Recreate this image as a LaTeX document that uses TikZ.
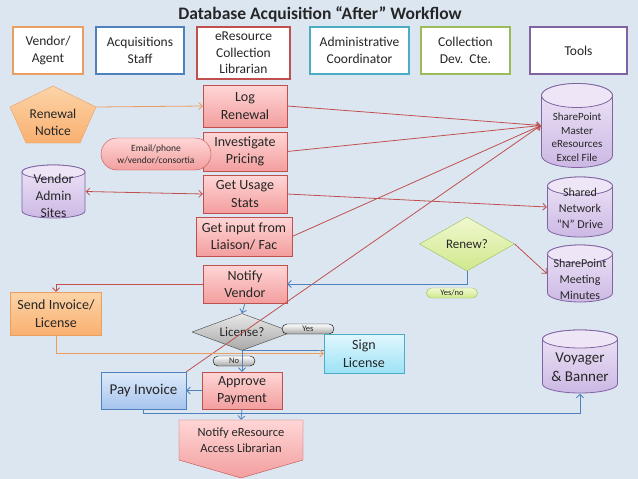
\documentclass[tikz,border=0pt]{standalone}
\usepackage{fontspec}
\setmainfont{Carlito}
\usetikzlibrary{shapes.geometric,shapes.misc,arrows.meta,calc}
\definecolor{bgblue}{RGB}{220,230,241}
\definecolor{inkgray}{RGB}{38,38,38}
\definecolor{redln}{RGB}{192,80,77}
\definecolor{blueln}{RGB}{79,129,189}
\definecolor{orangeln}{RGB}{236,158,96}
\definecolor{cyanln}{RGB}{75,172,198}
\definecolor{greenln}{RGB}{155,187,89}
\definecolor{purpleln}{RGB}{128,100,162}
\definecolor{redtop}{RGB}{255,214,214}
\definecolor{redbot}{RGB}{243,158,158}
\definecolor{orangetop}{RGB}{252,212,168}
\definecolor{orangebot}{RGB}{249,176,112}
\definecolor{bluetop}{RGB}{222,234,250}
\definecolor{bluebot}{RGB}{166,196,238}
\definecolor{cyantop}{RGB}{226,247,253}
\definecolor{cyanbot}{RGB}{156,226,246}
\definecolor{purpletop}{RGB}{238,230,247}
\definecolor{purplebot}{RGB}{204,184,228}
\definecolor{graytop}{RGB}{232,232,232}
\definecolor{graybot}{RGB}{168,168,168}
\definecolor{greentop}{RGB}{240,248,208}
\definecolor{greenbot}{RGB}{208,232,140}
\tikzset{
  >={Straight Barb[length=3.5pt,width=7pt]},
  every node/.style={text=inkgray},
  hd/.style={draw=#1,fill=white,line width=1.5pt,align=center,inner sep=1pt,
    font=\fontsize{13.5}{16.5}\selectfont},
  task/.style={draw=redln,top color=redtop,bottom color=redbot,align=center,inner sep=1pt,
    font=\fontsize{14}{17.5}\selectfont},
  orangebox/.style={draw=orangeln,top color=orangetop,bottom color=orangebot,align=center,
    inner sep=1pt,font=\fontsize{14}{17.5}\selectfont},
  paybox/.style={draw=blueln,top color=bluetop,bottom color=bluebot,align=center,inner sep=1pt,
    font=\fontsize{15}{18}\selectfont},
  signbox/.style={draw=cyanln,top color=cyantop,bottom color=cyanbot,align=center,inner sep=1pt,
    font=\fontsize{14}{17.5}\selectfont},
  store/.style={inner sep=0pt,path picture={
    \path[draw=purpleln,line width=0.8pt,top color=purpletop,bottom color=purplebot]
      let \p1=([shift={(0.5pt,-0.5pt)}]path picture bounding box.north west),
          \p2=([shift={(-0.5pt,0.5pt)}]path picture bounding box.south east),
          \n1={(\x2-\x1)/2} in
      (\x1,\y1-#1) -- (\x1,\y2+#1)
      arc[start angle=180,end angle=360,x radius=\n1,y radius=#1]
      -- (\x2,\y1-#1)
      arc[start angle=0,end angle=180,x radius=\n1,y radius=#1] -- cycle;
    \path[draw=purpleln,line width=0.8pt,fill=purpletop]
      let \p1=([shift={(0.5pt,-0.5pt)}]path picture bounding box.north west),
          \p2=([shift={(-0.5pt,0.5pt)}]path picture bounding box.south east),
          \n1={(\x2-\x1)/2} in
      (\x1+\n1,\y1-#1) ellipse[x radius=\n1,y radius=#1];
  }},
  store/.default=10pt,
  storetext/.style={align=center,inner sep=0pt},
  pill/.style={rounded rectangle,draw=#1,inner sep=1pt,align=center},
  choice/.style={diamond,aspect=2.6,inner sep=0pt,font=\fontsize{13}{16}\selectfont},
  redarrow/.style={draw=redln,line width=0.8pt},
  bluearrow/.style={draw=blueln,line width=0.8pt},
  orangearrow/.style={draw=orangeln,line width=0.8pt}
}

\begin{document}
\begin{tikzpicture}[x=1pt,y=-1pt]
  \useasboundingbox[fill=bgblue] (0,0) rectangle (638,479);
  \node[font=\bfseries\fontsize{17.5}{20}\selectfont] (title) at (320,14) {Database Acquisition “After” Workflow};
  \node[hd=orangeln,minimum width=70pt,minimum height=47pt] (hvendor) at (48,50.5) {Vendor/\\Agent};
  \node[hd=blueln,minimum width=88pt,minimum height=47pt] (hacq) at (140,50.5) {Acquisitions\\Staff};
  \node[hd=redln,minimum width=93pt,minimum height=52pt] (hlib) at (243.5,53) {eResource\\Collection\\Librarian};
  \node[hd=cyanln,minimum width=99pt,minimum height=47pt] (hadmin) at (359.5,50.5) {Administrative\\Coordinator};
  \node[hd=greenln,minimum width=89pt,minimum height=47pt] (hcte) at (465.5,50.5) {Collection\\Dev.\ \ Cte.};
  \node[hd=purpleln,minimum width=97pt,minimum height=47pt] (htools) at (578.5,50.5) {Tools};

  \path[orangebox] (53,86) -- (96,107) -- (80,143) -- (26,143) -- (10,107) -- cycle;
  \node[font=\fontsize{13.5}{17}\selectfont,align=center] (notice) at (53,122) {Renewal\\Notice};
  \coordinate (notice-e) at (96,107);

  \node[task,minimum width=84pt,minimum height=42pt] (logren) at (245,106) {Log\\Renewal};
  \node[task,minimum width=84pt,minimum height=39pt] (pricing) at (245,151.5) {Investigate\\Pricing};
  \node[pill=redln,top color=redtop,bottom color=redbot,minimum width=112pt,minimum height=32pt,
    font=\fontsize{9.5}{12}\selectfont] (email) at (156,154) {Email/phone\\w/vendor/consortia};
  \node[task,minimum width=84pt,minimum height=38pt] (usage) at (245,194) {Get Usage\\Stats};
  \node[task,minimum width=96pt,minimum height=39pt] (liaison) at (244,236.5) {Get input from\\Liaison/ Fac};
  \node[task,minimum width=84pt,minimum height=38pt] (notifyv) at (245,284) {Notify\\Vendor};
  \node[orangebox,minimum width=91pt,minimum height=43pt] (sendinv) at (56,313.5) {Send Invoice/\\License};
  \node[choice,draw=black!75,top color=graytop,bottom color=graybot,minimum width=100pt,minimum height=37pt] (license) at (242,332) {License?};
  \node[pill=black,top color=white,bottom color=graybot,minimum width=54pt,minimum height=10pt,
    font=\fontsize{8.5}{10}\selectfont] (yes) at (308,329) {Yes};
  \node[signbox,minimum width=80pt,minimum height=39pt] (signlic) at (364,353.5) {Sign\\License};
  \node[pill=black,top color=white,bottom color=graybot,minimum width=44pt,minimum height=10pt,
    font=\fontsize{8.5}{10}\selectfont] (no) at (234,361) {No};
  \node[task,minimum width=80pt,minimum height=37pt] (approve) at (242,390.5) {Approve\\Payment};
  \node[paybox,minimum width=85pt,minimum height=37pt] (payinv) at (143.5,390.5) {Pay Invoice};
  \path[task] (179,420) -- (303,420) -- (303,460) -- (241,478) -- (179,460) -- cycle;
  \node[align=center,minimum width=124pt,minimum height=40pt,font=\fontsize{12.5}{16}\selectfont] (notifye) at (241,440) {Notify eResource\\Access Librarian};

  \node[choice,draw=greenln,top color=greentop,bottom color=greenbot,minimum width=95pt,minimum height=54pt] (renew) at (467,244) {Renew?};
  \node[pill=greenln,top color=greentop,bottom color=greenbot,minimum width=53pt,minimum height=10pt,
    font=\fontsize{8.5}{10}\selectfont] (yesno) at (452,293) {Yes/no};

  \node[store=12pt,minimum width=72pt,minimum height=85pt] (master) at (577,125.5) {};
  \node[storetext,font=\fontsize{11}{13.5}\selectfont] (mastertxt) at (577,137) {SharePoint\\Master\\eResources\\Excel File};
  \node[store=9pt,minimum width=66pt,minimum height=61pt] (shared) at (580,207) {};
  \node[storetext,font=\fontsize{12}{16}\selectfont] (sharedtxt) at (580,208) {Shared\\Network\\“N” Drive};
  \node[store=9pt,minimum width=66pt,minimum height=58pt] (minutes) at (580,273.5) {};
  \node[storetext,font=\fontsize{12}{16}\selectfont] (minutestxt) at (580,279) {SharePoint\\Meeting\\Minutes};
  \node[store=9pt,minimum width=76pt,minimum height=64pt] (voyager) at (580,361.5) {};
  \node[storetext,font=\fontsize{15}{19}\selectfont] (voyagertxt) at (580,367) {Voyager\\\& Banner};
  \node[store=7pt,minimum width=64pt,minimum height=54pt] (admin) at (53.5,191.5) {};
  \node[storetext,font=\fontsize{13.5}{17}\selectfont] (admintxt) at (53.5,196) {Vendor\\Admin\\Sites};

  \draw[orangearrow,->] (notice-e) -- (logren.west);
  \draw[redarrow,->] (logren.east) -- (master.west);
  \draw[redarrow,->] (pricing.east) -- (master.west);
  \draw[redarrow,->] (liaison.east) -- (master.west);
  \draw[redarrow,->] (payinv.north east) -- (master.west);
  \draw[redarrow,<->] (admin.east) -- (usage.west);
  \draw[redarrow,->] (usage.east) -- (shared.west);
  \draw[redarrow,->] (renew.east) -- (minutes.west);
  \draw[bluearrow,->] (renew.south) |- (notifyv.east);
  \draw[redarrow,->] (notifyv.west) -| (sendinv.north);
  \draw[bluearrow,->] (notifyv.south) -- (license.north);
  \draw[bluearrow] (license.south) -- (license.south -| signlic.west);
  \draw[orangearrow,->] (sendinv.south) |- (signlic.west);
  \draw[bluearrow,->] (license.south) -- (approve.north);
  \draw[bluearrow,->] (approve.west) -- (payinv.east);
  \draw[bluearrow,->] (approve.south) -- (notifye.north);
  \draw[bluearrow,->] (payinv.south) -- ++(0,4) -| (voyager.south);
\end{tikzpicture}
\end{document}
